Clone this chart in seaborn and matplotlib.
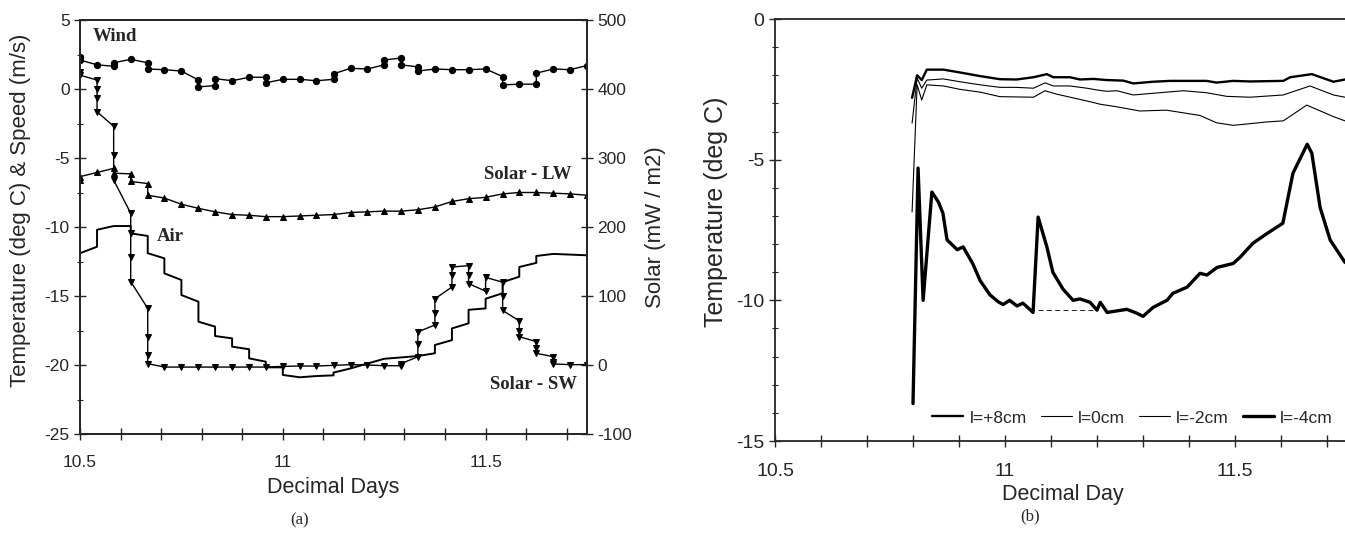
import numpy as np
import pandas as pd
import matplotlib.pyplot as plt
import matplotlib.ticker as mticker
import seaborn as sns

# ---- panel (a): met station data ----
wind_day = [10.5, 10.5, 10.542, 10.583, 10.583, 10.625, 10.667, 10.667, 10.708, 10.75,
            10.792, 10.792, 10.833, 10.833, 10.875, 10.917, 10.958, 10.958, 11.0, 11.042,
            11.083, 11.125, 11.125, 11.167, 11.208, 11.25, 11.25, 11.292, 11.292, 11.333,
            11.333, 11.375, 11.417, 11.458, 11.5, 11.542, 11.542, 11.583, 11.625, 11.625,
            11.667, 11.708, 11.75]
wind_speed = [2.35, 2.1, 1.75, 1.65, 1.9, 2.15, 1.9, 1.45, 1.4, 1.3,
              0.65, 0.15, 0.25, 0.75, 0.6, 0.85, 0.85, 0.45, 0.7, 0.7,
              0.6, 0.7, 1.1, 1.5, 1.45, 1.75, 2.1, 2.25, 1.75, 1.6,
              1.3, 1.45, 1.4, 1.4, 1.45, 0.9, 0.3, 0.35, 0.35, 1.15,
              1.45, 1.4, 1.7]

lw_day = [10.5, 10.5, 10.542, 10.583, 10.583, 10.625, 10.625, 10.667, 10.667, 10.708,
          10.75, 10.792, 10.833, 10.875, 10.917, 10.958, 11.0, 11.042, 11.083, 11.125,
          11.167, 11.208, 11.25, 11.292, 11.333, 11.375, 11.417, 11.458, 11.5, 11.542,
          11.583, 11.625, 11.667, 11.708, 11.75]
lw_solar = [268, 273, 279, 285, 278, 277, 266, 263, 246, 242,
            233, 227, 222, 218, 217, 215, 215, 216, 217, 218,
            221, 222, 223, 223, 225, 229, 237, 241, 243, 248,
            250, 250, 249, 248, 246]

sw_day = [10.5, 10.5, 10.542, 10.542, 10.542, 10.542, 10.583, 10.583, 10.583,
          10.625, 10.625, 10.625, 10.625, 10.667, 10.667, 10.667, 10.667,
          10.708, 10.75, 10.792, 10.833, 10.875, 10.917, 10.958, 11.0, 11.042,
          11.083, 11.125, 11.167, 11.208, 11.25, 11.292, 11.292,
          11.333, 11.333, 11.333, 11.375, 11.375, 11.375, 11.417, 11.417, 11.417,
          11.458, 11.458, 11.458, 11.5, 11.5, 11.542, 11.542, 11.542,
          11.583, 11.583, 11.583, 11.625, 11.625, 11.625, 11.667, 11.667, 11.667,
          11.708, 11.75]
sw_solar = [425, 420, 413, 400, 387, 367, 346, 305, 268,
            220, 191, 157, 121, 82, 41, 14, 2,
            -3, -3, -3, -3, -3, -3, -3, -2, -1.5,
            -1.5, -0.5, 0.5, 0, -1, -1, 2,
            12, 30, 48, 58, 75, 96, 113, 130, 142,
            144, 130, 118, 107, 127, 120, 100, 79,
            64, 50, 41, 34, 25, 17, 12, 5, 1.5,
            0.5, 0.5]

air_day = [10.5, 10.542, 10.542, 10.583, 10.625, 10.625, 10.667, 10.667, 10.708, 10.708,
           10.75, 10.75, 10.792, 10.792, 10.833, 10.833, 10.875, 10.875, 10.917, 10.917,
           10.958, 10.958, 11.0, 11.0, 11.042, 11.083, 11.125, 11.125, 11.167, 11.208,
           11.25, 11.292, 11.333, 11.375, 11.375, 11.417, 11.417, 11.458, 11.458, 11.5,
           11.5, 11.542, 11.542, 11.583, 11.583, 11.625, 11.625, 11.667, 11.75]
air_temp = [-11.9, -11.43, -10.2, -9.93, -9.93, -10.46, -10.65, -11.9, -12.27, -13.36,
            -13.84, -14.93, -15.41, -16.86, -17.22, -17.9, -18.07, -18.67, -18.86, -19.52,
            -19.76, -20.17, -20.17, -20.72, -20.89, -20.8, -20.75, -20.55, -20.25, -19.9,
            -19.55, -19.45, -19.35, -19.15, -18.55, -18.2, -17.35, -16.98, -16.0, -15.9,
            -15.2, -14.8, -14.0, -13.6, -12.9, -12.6, -12.1, -11.95, -12.05]

# ---- panel (b): ice temperatures by level ----
p8_day = [10.798, 10.809, 10.819, 10.83, 10.866, 10.902, 10.946, 10.989, 11.025, 11.062,
          11.091, 11.105, 11.141, 11.163, 11.192, 11.221, 11.257, 11.279, 11.322, 11.359,
          11.438, 11.46, 11.496, 11.533, 11.605, 11.62, 11.667, 11.714, 11.739, 11.75]
p8_temp = [-2.8, -2.0, -2.17, -1.8, -1.8, -1.9, -2.03, -2.14, -2.15, -2.07,
           -1.96, -2.07, -2.07, -2.15, -2.13, -2.17, -2.19, -2.29, -2.23, -2.2,
           -2.2, -2.26, -2.2, -2.22, -2.2, -2.07, -1.96, -2.23, -2.15, -2.2]

l0_day = [10.798, 10.809, 10.819, 10.83, 10.866, 10.902, 10.946, 10.989, 11.025, 11.062,
          11.087, 11.105, 11.141, 11.178, 11.199, 11.221, 11.243, 11.279, 11.315, 11.351,
          11.388, 11.438, 11.482, 11.533, 11.605, 11.663, 11.714, 11.739, 11.75]
l0_temp = [-3.7, -2.1, -2.46, -2.17, -2.13, -2.23, -2.34, -2.43, -2.43, -2.46,
           -2.27, -2.38, -2.38, -2.46, -2.52, -2.57, -2.55, -2.7, -2.65, -2.6,
           -2.55, -2.62, -2.75, -2.78, -2.7, -2.38, -2.7, -2.78, -2.8]

m2_day = [10.798, 10.809, 10.819, 10.83, 10.866, 10.902, 10.946, 10.989, 11.062, 11.087,
          11.112, 11.185, 11.207, 11.243, 11.293, 11.351, 11.424, 11.46, 11.496, 11.569,
          11.605, 11.656, 11.714, 11.739, 11.75]
m2_temp = [-6.86, -2.34, -2.88, -2.34, -2.38, -2.5, -2.6, -2.76, -2.78, -2.55,
           -2.67, -2.94, -3.03, -3.12, -3.27, -3.24, -3.43, -3.69, -3.78, -3.66,
           -3.62, -3.06, -3.47, -3.62, -3.65]

m4_day = [10.80, 10.811, 10.822, 10.841, 10.855, 10.865, 10.874, 10.896, 10.909, 10.93,
          10.946, 10.967, 10.985, 10.996, 11.01, 11.026, 11.039, 11.061, 11.072, 11.091,
          11.104, 11.126, 11.148, 11.163, 11.185, 11.2, 11.207, 11.222, 11.265, 11.287,
          11.3, 11.322, 11.352, 11.365, 11.396, 11.424, 11.439, 11.461, 11.496, 11.511,
          11.539, 11.57, 11.604, 11.626, 11.657, 11.667, 11.685, 11.707, 11.739, 11.75]
m4_temp = [-13.67, -5.3, -10.0, -6.15, -6.5, -6.9, -7.85, -8.2, -8.1, -8.7,
           -9.3, -9.8, -10.05, -10.15, -10.0, -10.2, -10.1, -10.43, -7.04, -8.1,
           -9.0, -9.6, -10.0, -9.95, -10.07, -10.35, -10.07, -10.43, -10.32, -10.46,
           -10.57, -10.25, -10.0, -9.75, -9.53, -9.04, -9.1, -8.83, -8.69, -8.47,
           -7.97, -7.62, -7.26, -5.48, -4.45, -4.77, -6.7, -7.86, -8.65, -8.7]

gap_day = [11.072, 11.2]
gap_temp = [-10.35, -10.35]

sns.set_style("ticks")
plt.rcParams['font.family'] = ['Liberation Sans', 'DejaVu Sans']
plt.rcParams['axes.linewidth'] = 1.3
plt.rcParams['axes.unicode_minus'] = False

fig = plt.figure(figsize=(13.45, 5.4), dpi=100)
ax_a = fig.add_axes([80 / 1345, 1 - 434 / 540, 507 / 1345, 414 / 540])
ax_s = ax_a.twinx()
ax_b = fig.add_axes([775 / 1345, 1 - 441 / 540, 575 / 1345, 422 / 540])

k = dict(estimator=None, sort=False, color='black', legend=False)
sns.lineplot(x=wind_day, y=wind_speed, ax=ax_a, lw=1.0, marker='o', markersize=4.5,
             markeredgecolor='black', **k)
sns.lineplot(x=air_day, y=air_temp, ax=ax_a, lw=1.4, **k)
sns.lineplot(x=lw_day, y=lw_solar, ax=ax_s, lw=1.0, marker='^', markersize=4.5,
             markeredgecolor='black', **k)
sns.lineplot(x=sw_day, y=sw_solar, ax=ax_s, lw=1.0, marker='v', markersize=4.5,
             markeredgecolor='black', **k)

ax_a.set_xlim(10.5, 11.75)
ax_a.set_ylim(-25, 5)
ax_s.set_ylim(-100, 500)
ax_a.set_yticks(np.arange(-25, 6, 5))
ax_s.set_yticks(np.arange(-100, 501, 100))
ax_a.yaxis.set_minor_locator(mticker.MultipleLocator(2.5))
for a, fs, pad in ((ax_a, 12.5, 11), (ax_b, 14, 12)):
    a.set_xticks([10.5, 11.0, 11.5])
    a.xaxis.set_major_formatter(mticker.FuncFormatter(lambda v, p: f'{v:g}'))
    a.xaxis.set_minor_locator(mticker.MultipleLocator(0.1))
    a.tick_params(axis='x', which='both', direction='inout', length=8, width=1.0,
                  labelsize=fs, pad=pad)
    a.tick_params(axis='y', which='major', direction='inout', length=8, width=1.0,
                  labelsize=fs)
    a.tick_params(axis='y', which='minor', direction='inout', length=4, width=0.8)
ax_s.tick_params(axis='y', direction='inout', length=8, width=1.0, labelsize=12.5)

ax_a.set_xlabel('Decimal Days', fontsize=15.5, labelpad=5)
ax_a.set_ylabel('Temperature (deg C) & Speed (m/s)', fontsize=16)
ax_a.yaxis.set_label_coords(-0.097, 0.541)
ax_s.set_ylabel('Solar (mW / m2)', fontsize=16, labelpad=9)

serif = dict(family=['Liberation Serif'], fontweight='bold', fontsize=13.5, va='center')
ax_a.text(10.532, 3.77, 'Wind', ha='left', **serif)
ax_a.text(11.497, -6.23, 'Solar - LW', ha='left', **serif)
ax_a.text(10.69, -10.72, 'Air', ha='left', **serif)
ax_a.text(11.51, -21.4, 'Solar - SW', ha='left', **serif)

# panel (b)
sns.lineplot(x=p8_day, y=p8_temp, ax=ax_b, lw=1.7, label='l=+8cm', estimator=None,
             sort=False, color='black')
sns.lineplot(x=l0_day, y=l0_temp, ax=ax_b, lw=0.8, label='l=0cm', estimator=None,
             sort=False, color='black')
sns.lineplot(x=m2_day, y=m2_temp, ax=ax_b, lw=0.8, label='l=-2cm', estimator=None,
             sort=False, color='black')
sns.lineplot(x=m4_day, y=m4_temp, ax=ax_b, lw=2.4, label='l=-4cm', estimator=None,
             sort=False, color='black')
ax_b.plot(gap_day, gap_temp, color='black', lw=0.6, ls=(0, (6, 4)))

ax_b.set_xlim(10.5, 11.75)
ax_b.set_ylim(-15, 0)
ax_b.set_yticks(np.arange(-15, 1, 5))
ax_b.yaxis.set_minor_locator(mticker.MultipleLocator(1))
ax_b.spines['right'].set_visible(False)
ax_b.set_xlabel('Decimal Day', fontsize=15.5, labelpad=3)
ax_b.set_ylabel('Temperature (deg C)', fontsize=18)
ax_b.yaxis.set_label_coords(-0.082, 0.543)
ax_b.legend(loc='center left', bbox_to_anchor=(0.693, 0.226), bbox_transform=fig.transFigure,
            ncol=4, frameon=False, fontsize=12.5, handlelength=1.8, handletextpad=0.35,
            columnspacing=0.8, borderpad=0, borderaxespad=0)

fig.text(300 / 1345, 1 - 520 / 540, '(a)', family=['Liberation Serif'], fontsize=12,
         ha='center', va='center')
fig.text(1030 / 1345, 1 - 516 / 540, '(b)', family=['Liberation Serif'], fontsize=12,
         ha='center', va='center')

fig.savefig('out.png', dpi=100)
